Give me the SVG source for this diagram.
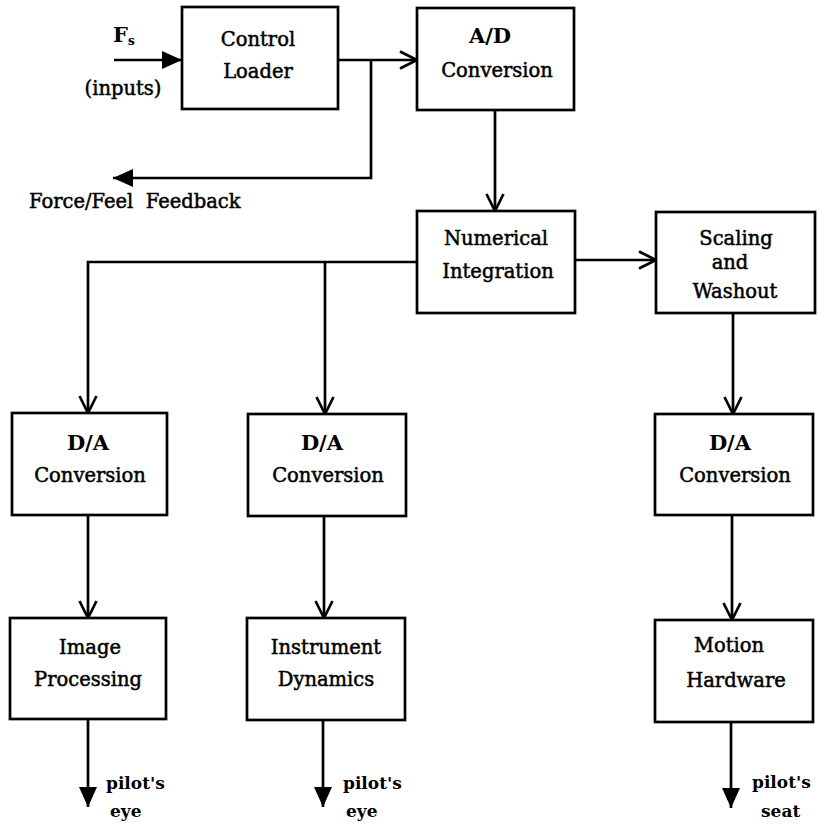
<svg xmlns="http://www.w3.org/2000/svg" width="819" height="825" viewBox="0 0 819 825">
<style>
.box{fill:#fff;stroke:#000;stroke-width:2.7}
.t{font-family:"DejaVu Serif","Liberation Serif",serif;font-size:19.5px;fill:#000;stroke:#000;stroke-width:0.5;text-anchor:middle}
.b{font-family:"DejaVu Serif","Liberation Serif",serif;font-size:21px;font-weight:bold;fill:#000;text-anchor:middle}
.o{font-family:"DejaVu Serif","Liberation Serif",serif;font-size:17px;font-weight:bold;fill:#000}
.c{fill:none;stroke:#000;stroke-width:2.7}
</style>
<defs>
<marker id="open" markerUnits="userSpaceOnUse" viewBox="0 0 20 20" markerWidth="20" markerHeight="20" refX="18" refY="10" orient="auto">
<path d="M1,1.5 L18,10 L1,18.5" fill="none" stroke="#000" stroke-width="2.7"/>
</marker>
<marker id="fill" markerUnits="userSpaceOnUse" viewBox="0 0 20 20" markerWidth="20" markerHeight="20" refX="20" refY="10" orient="auto">
<path d="M0,1 L20,10 L0,19 z" fill="#000"/>
</marker>
</defs>

<g id="connectors">
<path class="c" d="M114,60 H182" marker-end="url(#fill)"/>
<path class="c" d="M338,60 H417" marker-end="url(#open)"/>
<path class="c" d="M371,60 V178 H113" marker-end="url(#fill)"/>
<path class="c" d="M495,110 V211" marker-end="url(#open)"/>
<path class="c" d="M575,260 H656" marker-end="url(#open)"/>
<path class="c" d="M417,262 H88 V413" marker-end="url(#open)"/>
<path class="c" d="M325,262 V414" marker-end="url(#open)"/>
<path class="c" d="M733,313 V414" marker-end="url(#open)"/>
<path class="c" d="M88,515 V618" marker-end="url(#open)"/>
<path class="c" d="M324,516 V618" marker-end="url(#open)"/>
<path class="c" d="M732,515 V620" marker-end="url(#open)"/>
<path class="c" d="M88,719 V807" marker-end="url(#fill)"/>
<path class="c" d="M323,720 V807" marker-end="url(#fill)"/>
<path class="c" d="M731,722 V808" marker-end="url(#fill)"/>
</g>

<g id="inputs">
<text class="b" x="113" y="42" style="text-anchor:start">F<tspan font-size="12" dy="3">s</tspan></text>
<text class="t" x="123" y="95">(inputs)</text>
</g>
<g id="feedback">
<text class="t" x="29" y="208" style="text-anchor:start" xml:space="preserve">Force/Feel  Feedback</text>
</g>

<g id="control-loader">
<rect class="box" x="182" y="7" width="156" height="102"/>
<text class="t" x="258" y="46">Control</text>
<text class="t" x="258" y="78">Loader</text>
</g>
<g id="ad-conversion">
<rect class="box" x="417" y="8" width="157" height="102"/>
<text class="b" x="490" y="43">A/D</text>
<text class="t" x="497" y="77">Conversion</text>
</g>
<g id="numerical-integration">
<rect class="box" x="417" y="211" width="158" height="102"/>
<text class="t" x="496" y="245">Numerical</text>
<text class="t" x="498" y="278">Integration</text>
</g>
<g id="scaling-washout">
<rect class="box" x="656" y="212" width="159" height="101"/>
<text class="t" x="736" y="245">Scaling</text>
<text class="t" x="730" y="269">and</text>
<text class="t" x="735" y="298">Washout</text>
</g>
<g id="da-1">
<rect class="box" x="12" y="413" width="155" height="102"/>
<text class="b" x="88" y="450">D/A</text>
<text class="t" x="90" y="482">Conversion</text>
</g>
<g id="da-2">
<rect class="box" x="248" y="414" width="158" height="102"/>
<text class="b" x="322" y="450">D/A</text>
<text class="t" x="328" y="482">Conversion</text>
</g>
<g id="da-3">
<rect class="box" x="655" y="414" width="158" height="101"/>
<text class="b" x="730" y="450">D/A</text>
<text class="t" x="735" y="482">Conversion</text>
</g>
<g id="image-processing">
<rect class="box" x="10" y="618" width="156" height="101"/>
<text class="t" x="90" y="654">Image</text>
<text class="t" x="88" y="686">Processing</text>
</g>
<g id="instrument-dynamics">
<rect class="box" x="247" y="618" width="158" height="102"/>
<text class="t" x="326" y="654">Instrument</text>
<text class="t" x="326" y="686">Dynamics</text>
</g>
<g id="motion-hardware">
<rect class="box" x="655" y="620" width="158" height="102"/>
<text class="t" x="729" y="652">Motion</text>
<text class="t" x="736" y="687">Hardware</text>
</g>

<g id="outputs">
<text class="o" x="106" y="789">pilot's</text>
<text class="o" x="110" y="817">eye</text>
<text class="o" x="343" y="789">pilot's</text>
<text class="o" x="346" y="817">eye</text>
<text class="o" x="752" y="788">pilot's</text>
<text class="o" x="761" y="817">seat</text>
</g>
</svg>
